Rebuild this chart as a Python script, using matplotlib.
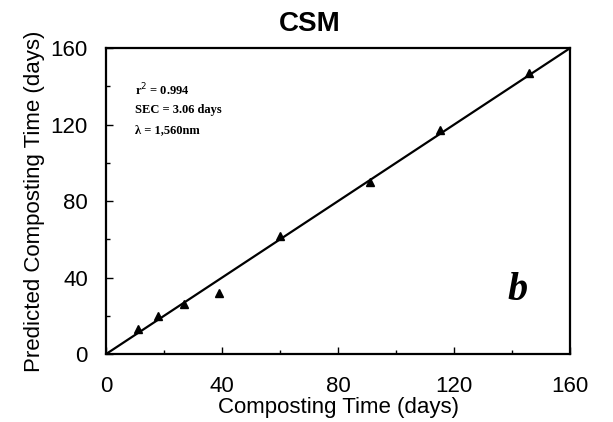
import matplotlib
matplotlib.use('Agg')
import matplotlib.pyplot as plt
from matplotlib.ticker import MultipleLocator

# measured vs predicted composting time (days)
measured = [11, 18, 27, 39, 60, 91, 115, 146]
predicted = [13, 20, 26, 32, 62, 90, 117, 147]
fit_x = [0, 160]
fit_y = [0, 160]
ticks = [0, 40, 80, 120, 160]
stats = ['r$^2$ = 0.994', 'SEC = 3.06 days', '\u03bb = 1,560nm']

plt.rcParams['font.family'] = ['Liberation Sans', 'DejaVu Sans']

fig = plt.figure(figsize=(6.13, 4.22), dpi=100)
ax = fig.add_axes([0.173, 0.161, 0.757, 0.725])

ax.plot(fit_x, fit_y, color='black', lw=1.6)
ax.plot(measured, predicted, linestyle='none', marker='^', ms=5.5, color='black')

ax.set_xlim(0, 160)
ax.set_ylim(0, 160)
ax.set_xticks(ticks)
ax.set_yticks(ticks)
ax.xaxis.set_minor_locator(MultipleLocator(20))
ax.yaxis.set_minor_locator(MultipleLocator(20))
ax.tick_params(which='both', direction='in', width=1, labelsize=16)
ax.tick_params(axis='x', pad=16)
ax.tick_params(axis='y', pad=13)
ax.tick_params(which='major', length=5)
ax.tick_params(which='minor', length=3)
for s in ax.spines.values():
    s.set_linewidth(1.6)

ax.set_xlabel('Composting Time (days)', fontsize=16, labelpad=0)
ax.set_ylabel('Predicted Composting Time (days)', fontsize=16, labelpad=4)
ax.set_title('CSM', fontsize=20, fontweight='bold', x=0.44, pad=12)

for i, t in enumerate(stats):
    ax.text(10, 138 - i * 10.4, t, fontsize=9, fontweight='bold',
            family=['Liberation Serif', 'DejaVu Serif'], va='center')

ax.text(142, 33, 'b', fontsize=29, fontweight='bold', fontstyle='italic',
        family=['Liberation Serif', 'DejaVu Serif'], ha='center', va='center')

fig.savefig('out.png', dpi=100)
